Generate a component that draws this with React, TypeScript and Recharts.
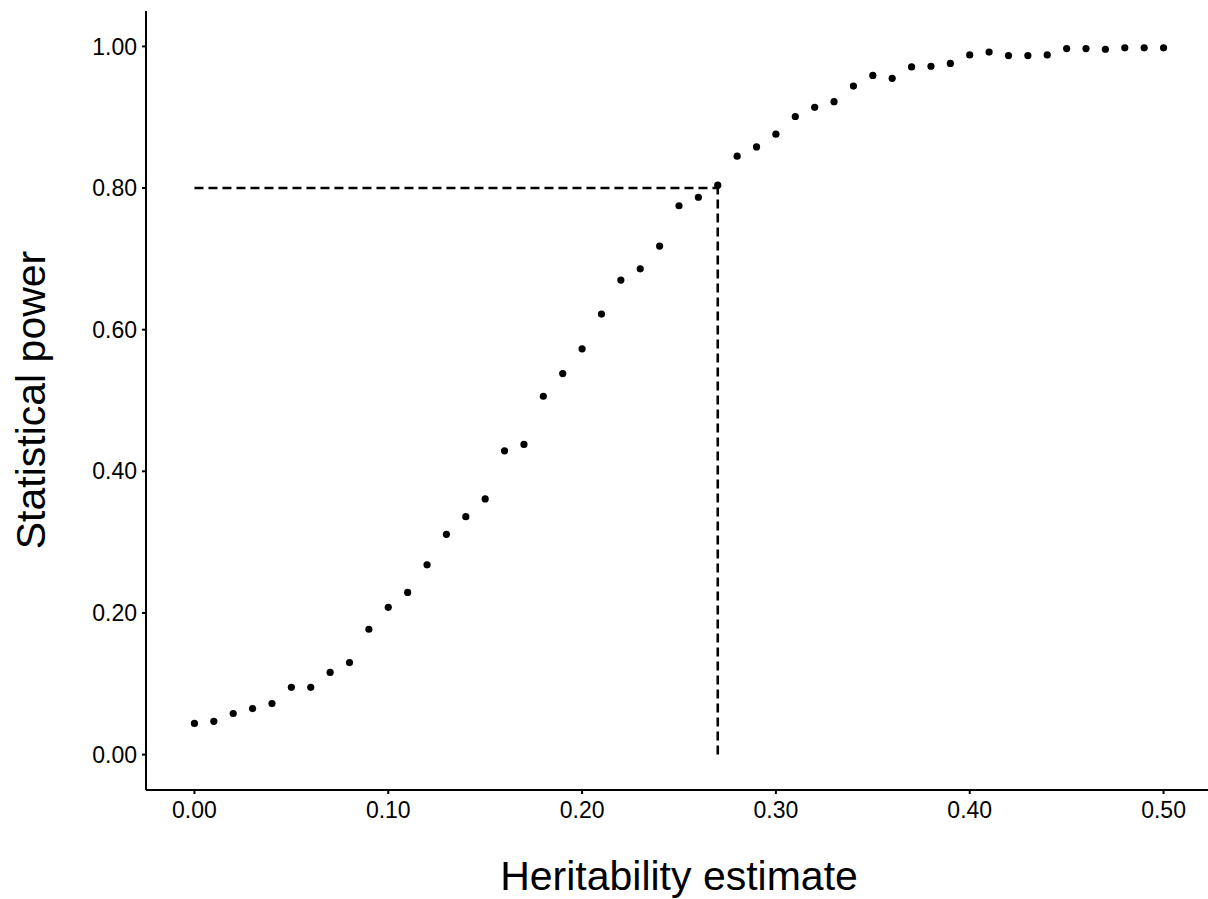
import React from 'react';
import {
  ScatterChart, Scatter, XAxis, YAxis, ReferenceLine,
} from 'recharts';

// heritability grid (x) and estimated power (y)
const heritability = [
  0.00, 0.01, 0.02, 0.03, 0.04, 0.05, 0.06, 0.07, 0.08, 0.09,
  0.10, 0.11, 0.12, 0.13, 0.14, 0.15, 0.16, 0.17, 0.18, 0.19,
  0.20, 0.21, 0.22, 0.23, 0.24, 0.25, 0.26, 0.27, 0.28, 0.29,
  0.30, 0.31, 0.32, 0.33, 0.34, 0.35, 0.36, 0.37, 0.38, 0.39,
  0.40, 0.41, 0.42, 0.43, 0.44, 0.45, 0.46, 0.47, 0.48, 0.49,
  0.50,
];
const power = [
  0.044, 0.047, 0.058, 0.065, 0.072, 0.095, 0.095, 0.116, 0.130, 0.177,
  0.208, 0.229, 0.268, 0.311, 0.336, 0.361, 0.429, 0.438, 0.506, 0.538,
  0.573, 0.622, 0.670, 0.686, 0.718, 0.775, 0.787, 0.804, 0.845, 0.858,
  0.876, 0.901, 0.914, 0.922, 0.944, 0.959, 0.955, 0.971, 0.972, 0.976,
  0.988, 0.992, 0.987, 0.987, 0.988, 0.997, 0.997, 0.996, 0.998, 0.998,
  0.998,
];
const xTicks = [0, 0.1, 0.2, 0.3, 0.4, 0.5];
const yTicks = [0, 0.2, 0.4, 0.6, 0.8, 1.0];
const powerTarget = 0.8;
const heritabilityAtTarget = 0.27;

const FONT = '"Liberation Sans", Arial, Helvetica, sans-serif';

const data = heritability.map((h, i) => ({ h, p: power[i] }));

const Dot = (props: any) => <circle cx={props.cx} cy={props.cy} r={3.6} fill="#000" />;

const YTitle = () => (
  <text
    x={45}
    y={400}
    transform="rotate(-90, 45, 400)"
    textAnchor="middle"
    fontSize={41}
    fontFamily={FONT}
    fill="#000"
  >
    Statistical power
  </text>
);

export default function App() {
  const tickStyle = { fontSize: 23, fill: '#000', fontFamily: FONT };
  const axisLine = { stroke: '#000', strokeWidth: 2 };
  const fmt = (v: number) => v.toFixed(2);

  // the plot runs a little past the right edge, as in the original figure
  return (
    <div style={{ position: 'absolute', left: 0, top: 0, width: 1208, height: 899, overflow: 'hidden', background: '#fff' }}>
      <ScatterChart width={1212} height={899} margin={{ top: 11, right: 0, bottom: 0, left: 0 }}>
        <XAxis
          type="number"
          dataKey="h"
          domain={[-0.025, 0.525]}
          ticks={xTicks}
          tickFormatter={fmt}
          height={109}
          tick={tickStyle}
          tickSize={4}
          tickMargin={8}
          axisLine={axisLine}
          tickLine={axisLine}
          allowDataOverflow
          label={{ value: 'Heritability estimate', position: 'insideBottom', offset: 9, fontSize: 41, fill: '#000', fontFamily: FONT }}
        />
        <YAxis
          type="number"
          dataKey="p"
          domain={[-0.05, 1.05]}
          ticks={yTicks}
          tickFormatter={fmt}
          width={146}
          tick={tickStyle}
          tickSize={4}
          tickMargin={5}
          axisLine={axisLine}
          tickLine={axisLine}
          allowDataOverflow
          label={<YTitle />}
        />
        <ReferenceLine
          segment={[{ x: 0, y: powerTarget }, { x: heritabilityAtTarget, y: powerTarget }]}
          stroke="#000"
          strokeWidth={2.6}
          strokeDasharray="9 5"
        />
        <ReferenceLine
          segment={[{ x: heritabilityAtTarget, y: 0 }, { x: heritabilityAtTarget, y: powerTarget }]}
          stroke="#000"
          strokeWidth={2.6}
          strokeDasharray="9 5"
        />
        <Scatter data={data} shape={Dot} isAnimationActive={false} />
      </ScatterChart>
    </div>
  );
}
